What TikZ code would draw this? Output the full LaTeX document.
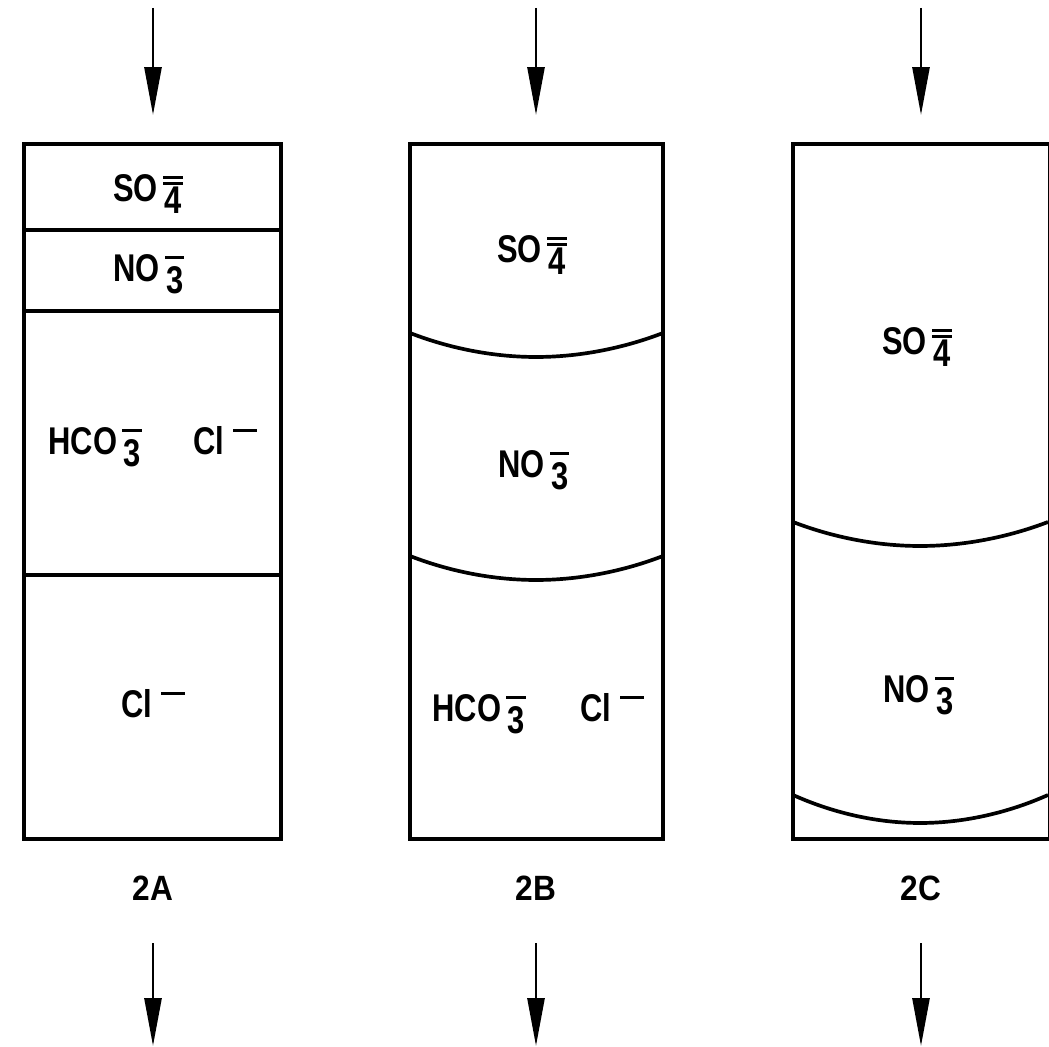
\documentclass[tikz,border=0pt]{standalone}
\usepackage{fontspec}
\setmainfont{Liberation Sans}[FakeStretch=0.8]
\newfontfamily\capfont{Liberation Sans}[FakeStretch=0.9]
\usepackage{tikz}
\usetikzlibrary{arrows.meta}

% charge bars and lowered digit of an ion
\newcommand{\topbar}{\rlap{\rule[13.2pt]{11pt}{1.8pt}}}
\newcommand{\lowbar}{\rlap{\rule[9.5pt]{11pt}{1.8pt}}}
\newcommand{\subdig}[1]{\raisebox{-6.5pt}{\makebox[11pt]{#1}}}
\newcommand{\monoion}[2]{#1\kern3pt\topbar\subdig{#2}}
\newcommand{\diion}[2]{#1\kern3pt\topbar\lowbar\subdig{#2}}
\newcommand{\chloride}{Cl\kern5pt\rule[13.2pt]{13.5pt}{1.8pt}}

\begin{document}
\begin{tikzpicture}[x=0.02cm,y=-0.02cm,
  wall/.style={line width=2.2pt},
  front/.style={line width=2.1pt},
  ionlbl/.style={inner sep=0pt, anchor=base west, font=\fontsize{22}{26}\selectfont\bfseries},
  collbl/.style={inner sep=0pt, anchor=base, font=\capfont\fontsize{20}{24}\selectfont\bfseries},
  flow/.style={line width=1.6pt, -{Triangle[length=0.96cm,width=0.34cm]}}]

  \fill[white] (0,0) rectangle (1049,1047);
  \useasboundingbox (0,0) rectangle (1049,1047);
  \clip (0,0) rectangle (1049,1047);

  % flow in and out of each column
  \foreach \col/\x in {a/153,b/536,c/921} {
    \coordinate (in\col)   at (\x,8);
    \coordinate (top\col)  at (\x,115);
    \coordinate (bot\col)  at (\x,943);
    \coordinate (out\col)  at (\x,1046);
    \draw[flow] (in\col) -- (top\col);
    \draw[flow] (bot\col) -- (out\col);
  }

  % column 2A: flat bands
  \draw[wall] (24,144) rectangle (281,839);
  \draw[wall] (24,230) -- (281,230);
  \draw[wall] (24,311) -- (281,311);
  \draw[wall] (24,575) -- (281,575);

  % column 2B: curved fronts
  \draw[wall] (410,144) rectangle (663,839);
  \draw[front] (410,333) parabola bend (536,357) (663,333);
  \draw[front] (410,556) parabola bend (536,580) (663,556);

  % column 2C: curved fronts, cut at the right
  \draw[wall] (793,144) rectangle (1049.5,839);
  \draw[front] (793,522) parabola bend (920,546) (1048,522);
  \draw[front] (793,795) parabola bend (920,823) (1048,795);

  % ions
  \node[ionlbl] (so4a) at (113,202) {\diion{SO}{4}};
  \node[ionlbl] (no3a) at (113,282) {\monoion{NO}{3}};
  \node[ionlbl] (hcoa) at (48,455)  {\monoion{HCO}{3}};
  \node[ionlbl] (cla)  at (193,455) {\chloride};
  \node[ionlbl] (clbota) at (121,718) {\chloride};

  \node[ionlbl] (so4b) at (497,263) {\diion{SO}{4}};
  \node[ionlbl] (no3b) at (498,478) {\monoion{NO}{3}};
  \node[ionlbl] (hcob) at (432,722) {\monoion{HCO}{3}};
  \node[ionlbl] (clb)  at (580,722) {\chloride};

  \node[ionlbl] (so4c) at (882,355) {\diion{SO}{4}};
  \node[ionlbl] (no3c) at (883,703) {\monoion{NO}{3}};

  % column names
  \node[collbl] (capa) at (153,900) {2A};
  \node[collbl] (capb) at (536,900) {2B};
  \node[collbl] (capc) at (921,900) {2C};

\end{tikzpicture}
\end{document}
